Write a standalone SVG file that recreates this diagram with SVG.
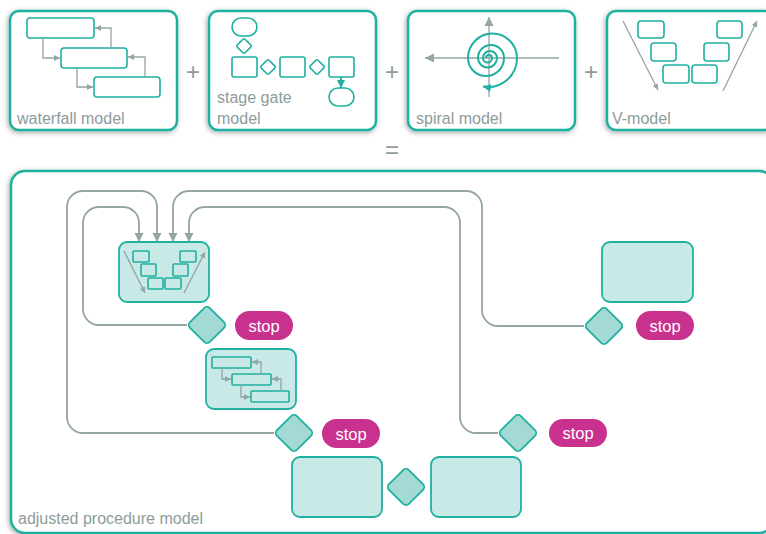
<svg xmlns="http://www.w3.org/2000/svg" width="766" height="534" viewBox="0 0 766 534">
<style>
.box{fill:#fff;stroke:#1fb0a0;stroke-width:2.5}
.ic{fill:#fff;stroke:#1fb0a0;stroke-width:1.6}
.icf{fill:#c9e9e6;stroke:#1fb0a0;stroke-width:1.6}
.node{fill:#c9e9e6;stroke:#1fb0a0;stroke-width:1.8}
.dia{fill:#a4dad5;stroke:#1fb0a0;stroke-width:1.8}
.stop{fill:#c9318e}
.stopt{fill:#fff;font-family:"Liberation Sans",Arial,sans-serif;font-size:16.5px;text-anchor:middle}
.lbl{fill:#8c9c9c;font-family:"Liberation Sans",Arial,sans-serif;font-size:16px}
.op{fill:#8c9c9c;font-family:"Liberation Sans",Arial,sans-serif;font-size:24px;text-anchor:middle}
.con{fill:none;stroke:#93a5a5;stroke-width:1.8}
.sc{fill:none;stroke:#93a5a5;stroke-width:1.3}
.tl{fill:none;stroke:#1fb0a0;stroke-width:2}
</style>
<defs>
<filter id="sh" x="-10%" y="-10%" width="125%" height="125%">
<feDropShadow dx="-1" dy="1.5" stdDeviation="2.5" flood-color="#000" flood-opacity="0.35"/>
</filter>
<marker id="ag" markerUnits="userSpaceOnUse" markerWidth="10" markerHeight="10" refX="9" refY="5" orient="auto">
<path d="M0,0.5 L9,5 L0,9.5 z" fill="#93a5a5"/>
</marker>
<marker id="as" markerUnits="userSpaceOnUse" markerWidth="7" markerHeight="7" refX="6" refY="3.5" orient="auto">
<path d="M0,0.5 L6,3.5 L0,6.5 z" fill="#93a5a5"/>
</marker>
<marker id="at" markerUnits="userSpaceOnUse" markerWidth="9" markerHeight="9" refX="8" refY="4.5" orient="auto">
<path d="M0,0.5 L8,4.5 L0,8.5 z" fill="#1fb0a0"/>
</marker>
</defs>

<!-- top row -->
<g id="waterfall">
<rect class="box" filter="url(#sh)" x="10" y="11" width="167" height="119" rx="9"/>
<rect class="ic" x="27" y="18" width="67" height="20" rx="3"/>
<rect class="ic" x="61" y="48" width="66" height="20" rx="3"/>
<rect class="ic" x="94" y="77" width="66" height="20" rx="3"/>
<path class="sc" marker-end="url(#as)" d="M43,38 V58 H60"/>
<path class="sc" marker-end="url(#as)" d="M77,68 V87 H93"/>
<path class="sc" marker-end="url(#as)" d="M111,48 V28 H95"/>
<path class="sc" marker-end="url(#as)" d="M145,77 V57 H128"/>
<text class="lbl" x="17" y="124">waterfall model</text>
</g>
<text class="op" x="193" y="80">+</text>

<g id="stagegate">
<rect class="box" filter="url(#sh)" x="209" y="11" width="167" height="119" rx="9"/>
<rect class="ic" x="232" y="18" width="25" height="18" rx="9"/>
<rect class="ic" transform="rotate(45 244 46)" x="238.5" y="40.5" width="11" height="11" rx="1.5"/>
<rect class="ic" x="232" y="57" width="25" height="20" rx="2"/>
<rect class="ic" transform="rotate(45 268 67)" x="262.5" y="61.5" width="11" height="11" rx="1.5"/>
<rect class="ic" x="280" y="57" width="25" height="20" rx="2"/>
<rect class="ic" transform="rotate(45 317 67)" x="311.5" y="61.5" width="11" height="11" rx="1.5"/>
<rect class="ic" x="329" y="57" width="25" height="20" rx="2"/>
<path class="tl" stroke-width="1.6" marker-end="url(#at)" d="M341,77 V88"/>
<rect class="ic" x="329" y="88" width="25" height="18" rx="9"/>
<text class="lbl" x="217" y="103">stage gate</text>
<text class="lbl" x="217" y="124">model</text>
</g>
<text class="op" x="392" y="80">+</text>

<g id="spiral">
<rect class="box" filter="url(#sh)" x="408" y="11" width="167" height="119" rx="9"/>
<path class="sc" stroke-width="1.6" marker-end="url(#ag)" d="M559,58 H425"/>
<path class="sc" stroke-width="1.6" marker-end="url(#ag)" d="M489,97 V17"/>
<path class="tl" marker-end="url(#at)" d="M486,58 A3,3 0 0 1 492,58 A4.5,4.5 0 0 1 483,58 A7,7 0 0 1 497,58 A9.5,9.5 0 0 1 478,58 A13,13 0 0 1 504,58 A18,18 0 0 1 468,58 A24.5,24.5 0 0 1 517,58 A29,29 0 0 1 483,86.6"/>
<text class="lbl" x="416" y="124">spiral model</text>
</g>
<text class="op" x="591" y="80">+</text>

<g id="vmodel">
<rect class="box" filter="url(#sh)" x="607" y="11" width="167" height="119" rx="9"/>
<rect class="ic" x="638" y="21" width="26" height="17" rx="3"/>
<rect class="ic" x="651" y="43" width="25" height="18" rx="3"/>
<rect class="ic" x="663" y="65" width="26" height="18" rx="3"/>
<rect class="ic" x="692" y="65" width="25" height="18" rx="3"/>
<rect class="ic" x="704" y="43" width="25" height="18" rx="3"/>
<rect class="ic" x="717" y="21" width="25" height="17" rx="3"/>
<path class="sc" stroke-width="1.4" marker-end="url(#as)" d="M623,21 L658,90"/>
<path class="sc" stroke-width="1.4" marker-end="url(#as)" d="M723,91 L757,21"/>
<text class="lbl" x="612" y="124">V-model</text>
</g>
<text class="op" x="392" y="158">=</text>

<!-- adjusted procedure model -->
<g id="adjusted">
<rect class="box" filter="url(#sh)" x="11" y="171" width="762" height="362" rx="14"/>
<text class="lbl" x="18" y="524">adjusted procedure model</text>
</g>

<g id="connectors">
<path class="con" marker-end="url(#ag)" d="M274,433 H83 A16,16 0 0 1 67,417 V207 A16,16 0 0 1 83,191 H141 A16,16 0 0 1 157,207 V242"/>
<path class="con" marker-end="url(#ag)" d="M187,325 H99 A16,16 0 0 1 83,309 V223 A16,16 0 0 1 99,207 H123 A16,16 0 0 1 139,223 V242"/>
<path class="con" marker-end="url(#ag)" d="M584,326 H498 A16,16 0 0 1 482,310 V207 A16,16 0 0 0 466,191 H189 A16,16 0 0 0 173,207 V242"/>
<path class="con" marker-end="url(#ag)" d="M498,433 H476 A16,16 0 0 1 460,417 V223 A16,16 0 0 0 444,207 H205 A16,16 0 0 0 189,223 V242"/>
</g>

<g id="n-vmodel">
<rect class="node" x="119" y="242" width="90" height="60" rx="8"/>
<rect class="icf" x="133" y="251" width="16" height="11" rx="1"/>
<rect class="icf" x="141" y="264" width="15" height="12" rx="1"/>
<rect class="icf" x="148" y="278" width="15" height="11" rx="1"/>
<rect class="icf" x="165" y="278" width="16" height="11" rx="1"/>
<rect class="icf" x="173" y="264" width="15" height="12" rx="1"/>
<rect class="icf" x="180" y="251" width="16" height="11" rx="1"/>
<path class="sc" stroke-width="1.2" marker-end="url(#as)" d="M124,251 L145,293"/>
<path class="sc" stroke-width="1.2" marker-end="url(#as)" d="M184,293 L205,252"/>
</g>

<g id="d1">
<rect class="dia" transform="rotate(45 207 325)" x="193" y="311" width="28" height="28" rx="4"/>
</g>
<g id="stop1">
<rect class="stop" x="235" y="311" width="58" height="29" rx="14.5"/>
<text class="stopt" x="264" y="331.5">stop</text>
</g>

<g id="n-waterfall">
<rect class="node" x="206" y="349" width="90" height="60" rx="8"/>
<rect class="icf" x="212" y="357" width="39" height="11" rx="1"/>
<rect class="icf" x="232" y="374" width="39" height="11" rx="1"/>
<rect class="icf" x="251" y="391" width="38" height="11" rx="1"/>
<path class="sc" stroke-width="1.2" marker-end="url(#as)" d="M222,368 V379 H231"/>
<path class="sc" stroke-width="1.2" marker-end="url(#as)" d="M241,385 V397 H250"/>
<path class="sc" stroke-width="1.2" marker-end="url(#as)" d="M261,374 V362 H252"/>
<path class="sc" stroke-width="1.2" marker-end="url(#as)" d="M281,391 V379 H272"/>
</g>

<g id="d2">
<rect class="dia" transform="rotate(45 294 433)" x="280" y="419" width="28" height="28" rx="4"/>
</g>
<g id="stop2">
<rect class="stop" x="322" y="419" width="58" height="29" rx="14.5"/>
<text class="stopt" x="351" y="439.5">stop</text>
</g>

<g id="n-bottom-left">
<rect class="node" x="292" y="457" width="90" height="60" rx="8"/>
</g>
<g id="d3">
<rect class="dia" transform="rotate(45 406 487)" x="392" y="473" width="28" height="28" rx="4"/>
</g>
<g id="n-bottom-right">
<rect class="node" x="431" y="457" width="90" height="60" rx="8"/>
</g>

<g id="d4">
<rect class="dia" transform="rotate(45 518 433)" x="504" y="419" width="28" height="28" rx="4"/>
</g>
<g id="stop3">
<rect class="stop" x="549" y="419" width="58" height="28" rx="14"/>
<text class="stopt" x="578" y="439">stop</text>
</g>

<g id="n-top-right">
<rect class="node" x="602" y="242" width="91" height="60" rx="8"/>
</g>
<g id="d5">
<rect class="dia" transform="rotate(45 604 326)" x="590" y="312" width="28" height="28" rx="4"/>
</g>
<g id="stop4">
<rect class="stop" x="636" y="311" width="58" height="29" rx="14.5"/>
<text class="stopt" x="665" y="331.5">stop</text>
</g>
</svg>
